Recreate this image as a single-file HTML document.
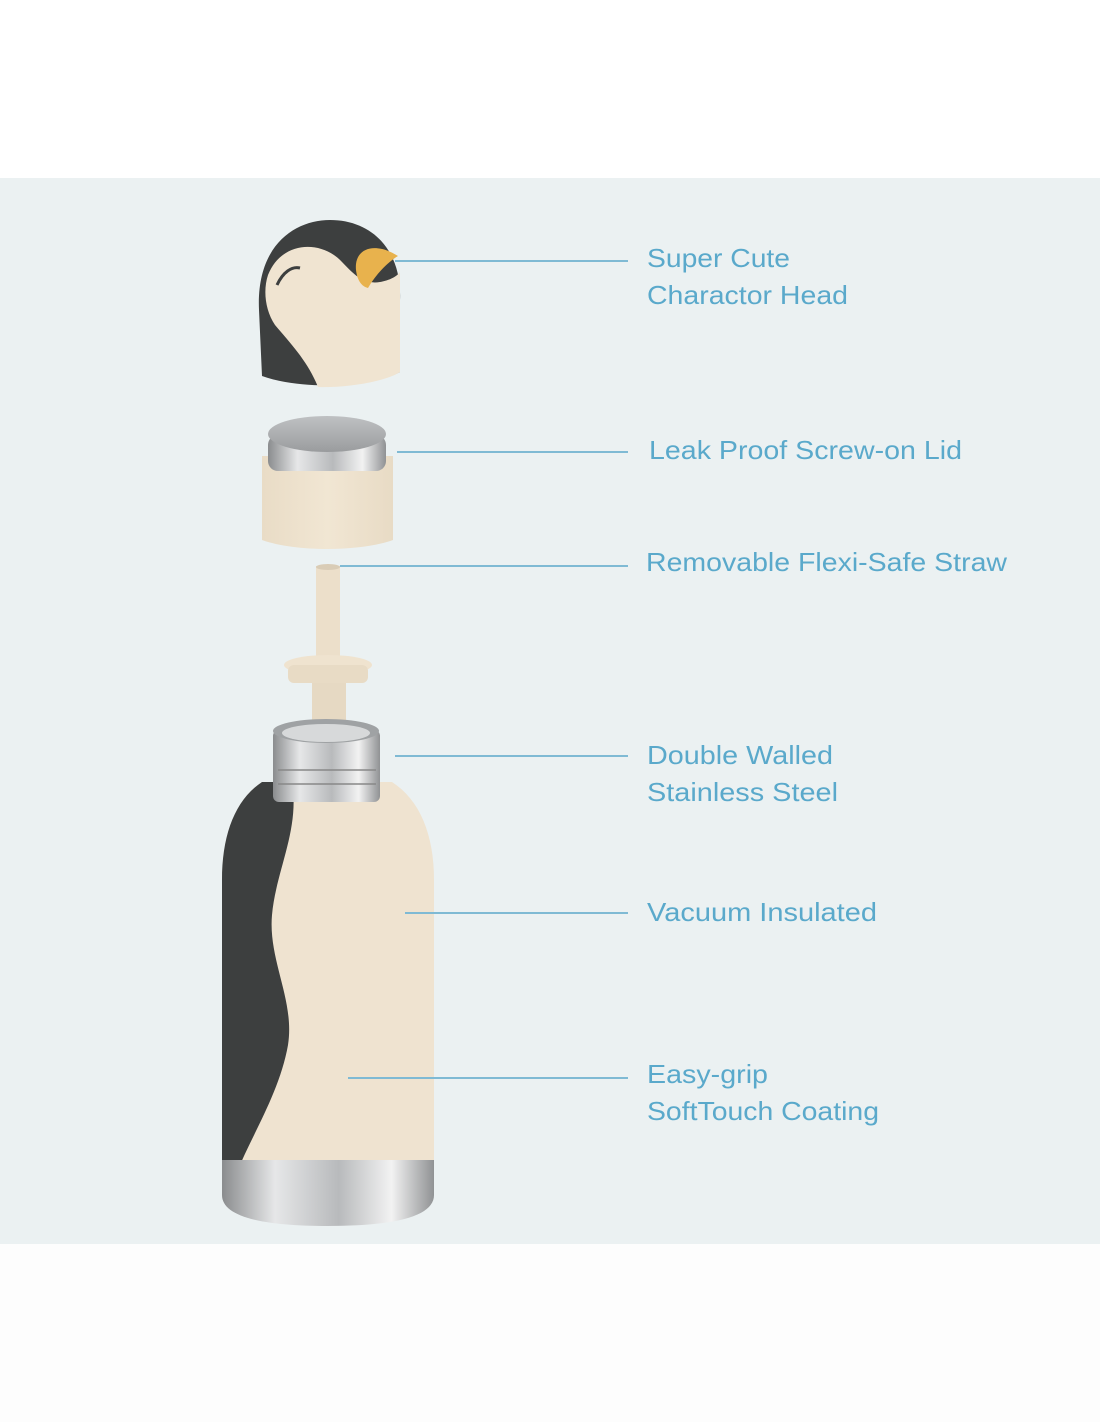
<!DOCTYPE html>
<html><head><style>
html,body{margin:0;padding:0;background:#fdfdfd;}
svg{display:block}
text{font-family:"Liberation Sans",sans-serif;font-size:26px;fill:#5aa9cb;}
</style></head><body>
<svg width="1100" height="1422" viewBox="0 0 1100 1422" xmlns="http://www.w3.org/2000/svg">
<defs>
<linearGradient id="metal" x1="0" x2="1">
<stop offset="0" stop-color="#8a8c8e"/><stop offset="0.25" stop-color="#e6e7e8"/><stop offset="0.55" stop-color="#b8babc"/><stop offset="0.8" stop-color="#f2f2f2"/><stop offset="1" stop-color="#909294"/></linearGradient>
<linearGradient id="disc" x1="0" y1="0" x2="0" y2="1"><stop offset="0" stop-color="#bfc1c3"/><stop offset="1" stop-color="#9a9c9e"/></linearGradient>
<linearGradient id="cream" x1="0" x2="1"><stop offset="0" stop-color="#e9dcc6"/><stop offset="0.5" stop-color="#f1e6d3"/><stop offset="1" stop-color="#e8dbc5"/></linearGradient>
</defs>
<rect x="0" y="0" width="1100" height="178" fill="#ffffff"/>
<rect x="0" y="178" width="1100" height="1066" fill="#ebf1f2"/>

<!-- head -->
<path d="M259 310 C256 245 295 220 330 220 C372 220 402 250 400 300 L400 372 C370 388 300 390 262 376 Z" fill="#3d3f3f"/>
<path d="M268 275 C282 240 322 240 342 262 C352 272 362 285 380 282 C392 280 398 275 400 272 L400 372 C385 382 345 388 318 387 C308 362 292 345 275 325 C265 310 263 290 268 275 Z" fill="#f0e4d1"/>
<path d="M277 285 C283 272 292 266 300 268" stroke="#3d3f3f" stroke-width="3" fill="none"/>
<path d="M356 270 C354 250 372 240 398 256 C388 262 376 274 368 288 C360 286 357 278 356 270 Z" fill="#e8b24d"/>

<!-- lid -->
<path d="M262 456 L393 456 L393 540 C360 552 295 552 262 540 Z" fill="url(#cream)"/>
<rect x="268" y="435" width="118" height="36" rx="10" fill="url(#metal)"/>
<ellipse cx="327" cy="434" rx="59" ry="18" fill="url(#disc)"/>

<!-- straw -->
<rect x="316" y="566" width="24" height="100" fill="#ecdfca"/>
<ellipse cx="328" cy="567" rx="12" ry="3" fill="#d9ccb6"/>
<ellipse cx="328" cy="665" rx="44" ry="10" fill="#efe3cf"/>
<rect x="288" y="665" width="80" height="18" rx="6" fill="#e8dbc5"/>
<rect x="312" y="683" width="34" height="40" fill="#e6d9c3"/>

<!-- bottle body -->
<path d="M262 782 C235 800 222 835 222 880 L222 1165 L434 1165 L434 880 C434 835 420 800 392 782 Z" fill="#efe3d0"/>
<path d="M262 782 C235 800 222 835 222 880 L222 1165 L240 1165 C255 1130 280 1090 288 1045 C295 1000 268 960 272 915 C276 870 300 830 292 782 Z" fill="#3d3f3f"/>
<path d="M222 1160 L434 1160 L434 1195 C434 1215 400 1226 328 1226 C256 1226 222 1215 222 1195 Z" fill="url(#metal)"/>
<!-- neck -->
<rect x="273" y="730" width="107" height="72" rx="6" fill="url(#metal)"/>
<ellipse cx="326" cy="731" rx="53" ry="12" fill="#9fa2a4"/>
<ellipse cx="326" cy="733" rx="44" ry="9" fill="#d7d9da"/>
<line x1="278" y1="770" x2="376" y2="770" stroke="#888" stroke-width="1.5"/>
<line x1="278" y1="784" x2="376" y2="784" stroke="#888" stroke-width="1.5"/>

<!-- lines -->
<g stroke="#7fbad4" stroke-width="2">
<line x1="395" y1="261" x2="628" y2="261"/>
<line x1="397" y1="452" x2="628" y2="452"/>
<line x1="340" y1="566" x2="628" y2="566"/>
<line x1="395" y1="756" x2="628" y2="756"/>
<line x1="405" y1="913" x2="628" y2="913"/>
<line x1="348" y1="1078" x2="628" y2="1078"/>
</g>

<text x="647" y="267" textLength="143" lengthAdjust="spacingAndGlyphs">Super Cute</text>
<text x="647" y="304" textLength="201" lengthAdjust="spacingAndGlyphs">Charactor Head</text>
<text x="649" y="459" textLength="313" lengthAdjust="spacingAndGlyphs">Leak Proof Screw-on Lid</text>
<text x="646" y="571" textLength="361" lengthAdjust="spacingAndGlyphs">Removable Flexi-Safe Straw</text>
<text x="647" y="764" textLength="186" lengthAdjust="spacingAndGlyphs">Double Walled</text>
<text x="647" y="801" textLength="191" lengthAdjust="spacingAndGlyphs">Stainless Steel</text>
<text x="647" y="921" textLength="230" lengthAdjust="spacingAndGlyphs">Vacuum Insulated</text>
<text x="647" y="1083" textLength="121" lengthAdjust="spacingAndGlyphs">Easy-grip</text>
<text x="647" y="1120" textLength="232" lengthAdjust="spacingAndGlyphs">SoftTouch Coating</text>
</svg>
</body></html>
